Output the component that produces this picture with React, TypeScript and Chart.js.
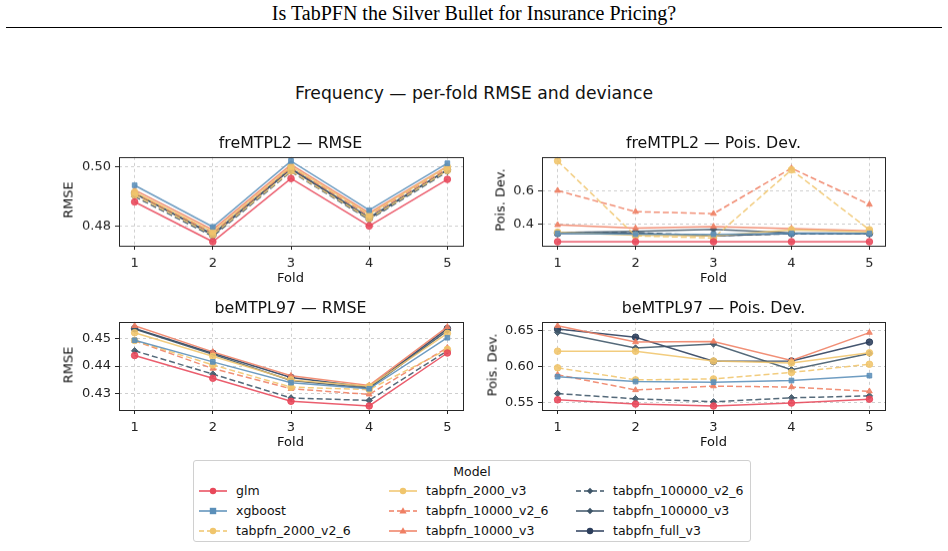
import React, { useEffect, useRef } from 'react';
import { Chart, registerables } from 'chart.js';
Chart.register(...registerables);

// ---------- data ----------
const folds = [1, 2, 3, 4, 5];
const models = [
  'glm', 'xgboost', 'tabpfn_2000_v2_6', 'tabpfn_2000_v3', 'tabpfn_10000_v2_6',
  'tabpfn_10000_v3', 'tabpfn_100000_v2_6', 'tabpfn_100000_v3', 'tabpfn_full_v3',
];
const colors = ['#e8485a', '#5b8fb9', '#f0c56c', '#f0c56c', '#ef7f63', '#ef7f63', '#3e5568', '#3e5568', '#2b3d5b'];
const dashed = [false, false, true, false, true, false, true, false, false];
const markers = ['circle', 'rect', 'circle', 'circle', 'triangle', 'triangle', 'rectRot', 'rectRot', 'circle'];

// freMTPL2 — RMSE (rows follow `models`)
const freRmse = [
  [0.4882, 0.4748, 0.4961, 0.4801, 0.4958],
  [0.4938, 0.4798, 0.5020, 0.4854, 0.5012],
  [0.4905, 0.4771, 0.4986, 0.4826, 0.4988],
  [0.4915, 0.4782, 0.5002, 0.4840, 0.5000],
  [0.4912, 0.4778, 0.4998, 0.4836, 0.4995],
  [0.4922, 0.4788, 0.5008, 0.4845, 0.5002],
  [0.4900, 0.4766, 0.4984, 0.4822, 0.4984],
  [0.4910, 0.4774, 0.4995, 0.4830, 0.4990],
  [0.4912, 0.4770, 0.4993, 0.4826, 0.4990],
];
// freMTPL2 — Pois. Dev.
const freDev = [
  [0.296, 0.296, 0.296, 0.296, 0.296],
  [0.345, 0.341, 0.340, 0.345, 0.345],
  [0.7765, 0.331, 0.318, 0.7235, 0.367],
  [0.352, 0.335, 0.330, 0.367, 0.355],
  [0.600, 0.4745, 0.4627, 0.733, 0.5176],
  [0.396, 0.3765, 0.386, 0.3745, 0.361],
  [0.348, 0.350, 0.332, 0.343, 0.343],
  [0.350, 0.357, 0.369, 0.348, 0.345],
  [0.345, 0.345, 0.331, 0.345, 0.345],
];
// beMTPL97 — RMSE
const beRmse = [
  [0.4438, 0.4356, 0.4273, 0.4256, 0.4447],
  [0.4493, 0.4415, 0.4340, 0.4318, 0.4502],
  [0.4492, 0.4404, 0.4324, 0.4315, 0.4460],
  [0.4520, 0.4435, 0.4350, 0.4327, 0.4518],
  [0.4491, 0.4391, 0.4318, 0.4298, 0.4466],
  [0.4545, 0.4451, 0.4365, 0.4330, 0.4541],
  [0.4455, 0.4371, 0.4285, 0.4276, 0.4455],
  [0.4533, 0.4442, 0.4348, 0.4320, 0.4528],
  [0.4535, 0.4446, 0.4359, 0.4324, 0.4535],
];
// beMTPL97 — Pois. Dev.
const beDev = [
  [0.5536, 0.5477, 0.5450, 0.5491, 0.5545],
  [0.5859, 0.5791, 0.5782, 0.5805, 0.5873],
  [0.5982, 0.5814, 0.5827, 0.5918, 0.6032],
  [0.6214, 0.6214, 0.6077, 0.6050, 0.6191],
  [0.5886, 0.5673, 0.5727, 0.5714, 0.5655],
  [0.6568, 0.6341, 0.6350, 0.6086, 0.6473],
  [0.5623, 0.5550, 0.5509, 0.5564, 0.5591],
  [0.6477, 0.6259, 0.6314, 0.5955, 0.6182],
  [0.6523, 0.6409, 0.6073, 0.6077, 0.6341],
];

const freRmseTicks = [0.48, 0.50];
const freDevTicks = [0.4, 0.6];
const beRmseTicks = [0.43, 0.44, 0.45];
const beDevTicks = [0.55, 0.60, 0.65];

// ---------- layout ----------
const FONT = '"DejaVu Sans", sans-serif';
const Y_W = 60;
const PAD_T = 10;
const PAD_R = 15;
const X_H = 40;

type PanelCfg = {
  title: string; ylabel: string; data: number[][]; ticks: number[]; dec: number;
  left: number; top: number; w: number; h: number; ylx: number;
};

const panels: PanelCfg[] = [
  { title: 'freMTPL2 — RMSE', ylabel: 'RMSE', data: freRmse, ticks: freRmseTicks, dec: 2, left: 118.5, top: 155, w: 344, h: 90.5, ylx: 68 },
  { title: 'freMTPL2 — Pois. Dev.', ylabel: 'Pois. Dev.', data: freDev, ticks: freDevTicks, dec: 1, left: 542, top: 155, w: 343, h: 90.5, ylx: 500 },
  { title: 'beMTPL97 — RMSE', ylabel: 'RMSE', data: beRmse, ticks: beRmseTicks, dec: 2, left: 118.5, top: 320, w: 344, h: 90, ylx: 68 },
  { title: 'beMTPL97 — Pois. Dev.', ylabel: 'Pois. Dev.', data: beDev, ticks: beDevTicks, dec: 2, left: 542, top: 320, w: 343, h: 90, ylx: 492 },
];

const framePlugin = {
  id: 'frame',
  afterDraw(chart: any) {
    const { ctx, chartArea } = chart;
    const { left, top, right, bottom } = chartArea;
    ctx.save();
    ctx.strokeStyle = '#262626';
    ctx.lineWidth = 1;
    ctx.strokeRect(Math.round(left) + 0.5, Math.round(top) + 0.5, Math.round(right - left), Math.round(bottom - top));
    ctx.restore();
  },
};

function Panel({ cfg }: { cfg: PanelCfg }) {
  const ref = useRef<HTMLCanvasElement | null>(null);
  const cw = cfg.w + Y_W + PAD_R;
  const ch = cfg.h + PAD_T + X_H;
  useEffect(() => {
    if (!ref.current) return;
    const all = cfg.data.flat();
    const mn = Math.min(...all);
    const mx = Math.max(...all);
    const m = (mx - mn) * 0.05;
    const chart = new Chart(ref.current, {
      type: 'line',
      data: {
        datasets: cfg.data.map((row, i) => ({
          label: models[i],
          data: row.map((v, j) => ({ x: folds[j], y: v })),
          borderColor: colors[i] + 'e0',
          backgroundColor: colors[i] + 'e0',
          pointBackgroundColor: colors[i] + 'e0',
          pointBorderColor: colors[i] + 'e0',
          borderWidth: 1.5,
          borderDash: dashed[i] ? [6, 3] : [],
          pointStyle: markers[i],
          pointRadius: markers[i] === 'rectRot' ? 3.2 : 3.3,
          pointBorderWidth: 1,
          tension: 0,
          fill: false,
        })),
      },
      plugins: [framePlugin],
      options: {
        animation: false,
        responsive: false,
        devicePixelRatio: 1,
        layout: { padding: { left: 0, top: PAD_T, right: PAD_R, bottom: 0 } },
        plugins: { legend: { display: false }, title: { display: false }, tooltip: { enabled: false } },
        scales: {
          x: {
            type: 'linear',
            min: 0.8,
            max: 5.2,
            afterBuildTicks: (s: any) => { s.ticks = folds.map((v) => ({ value: v })); },
            afterFit: (s: any) => { s.height = X_H; },
            ticks: { autoSkip: false, maxRotation: 0, color: '#222', font: { family: FONT, size: 13 }, padding: 6, callback: (v: any) => String(v) },
            grid: { color: 'rgba(170,170,170,0.7)', lineWidth: 0.8, tickLength: 4, tickColor: '#262626', tickWidth: 1, tickBorderDash: [] },
            border: { display: false, dash: [3, 3] },
          },
          y: {
            type: 'linear',
            min: mn - m,
            max: mx + m,
            afterBuildTicks: (s: any) => { s.ticks = cfg.ticks.map((v) => ({ value: v })); },
            afterFit: (s: any) => { s.width = Y_W; },
            ticks: { autoSkip: false, color: '#222', font: { family: FONT, size: 13 }, padding: 4, callback: (v: any) => Number(v).toFixed(cfg.dec) },
            grid: { color: 'rgba(170,170,170,0.7)', lineWidth: 0.8, tickLength: 4, tickColor: '#262626', tickWidth: 1, tickBorderDash: [] },
            border: { display: false, dash: [3, 3] },
          },
        },
      } as any,
    });
    return () => chart.destroy();
  }, []);
  const textBase: React.CSSProperties = { position: 'absolute', fontFamily: FONT, color: '#111', whiteSpace: 'nowrap' };
  return (
    <>
      <canvas
        ref={ref}
        width={cw}
        height={ch}
        style={{ position: 'absolute', left: cfg.left - Y_W, top: cfg.top - PAD_T, width: cw, height: ch }}
      />
      <div style={{ ...textBase, left: cfg.left, width: cfg.w, top: cfg.top - 21, textAlign: 'center', fontSize: 15.8, lineHeight: '18px' }}>{cfg.title}</div>
      <div style={{ ...textBase, left: cfg.left, width: cfg.w, top: cfg.top + cfg.h + 24, textAlign: 'center', fontSize: 13, lineHeight: '15px' }}>Fold</div>
      <div style={{ ...textBase, left: cfg.ylx, top: cfg.top + cfg.h / 2, fontSize: 13, lineHeight: '15px', transform: 'translate(-50%, -50%) rotate(-90deg)' }}>{cfg.ylabel}</div>
    </>
  );
}

function Handle({ i }: { i: number }) {
  const c = colors[i];
  const mk = markers[i];
  let marker: React.ReactNode;
  if (mk === 'circle') marker = <circle cx={14} cy={6} r={3.2} fill={c} />;
  else if (mk === 'rect') marker = <rect x={10.8} y={2.8} width={6.4} height={6.4} fill={c} />;
  else if (mk === 'triangle') marker = <polygon points="14,2.3 17.6,8.5 10.4,8.5" fill={c} />;
  else marker = <polygon points="14,2.8 17.2,6 14,9.2 10.8,6" fill={c} />;
  return (
    <svg width={28} height={12} style={{ position: 'absolute', left: 0, top: 0 }}>
      <line x1={0} y1={6} x2={28} y2={6} stroke={c} strokeWidth={1.5} strokeDasharray={dashed[i] ? '5,3' : undefined} />
      {marker}
    </svg>
  );
}

const legendCols = [199, 389, 576];
const legendRows = [491, 511, 531];

export default function App() {
  return (
    <div style={{ position: 'absolute', left: 0, top: 0, width: 948, height: 551, background: '#fff', overflow: 'hidden' }}>
      <div style={{ position: 'absolute', left: 0, width: 948, top: 2, textAlign: 'center', fontFamily: '"Liberation Serif", serif', fontSize: 20, lineHeight: '23px', color: '#000' }}>
        Is TabPFN the Silver Bullet for Insurance Pricing?
      </div>
      <div style={{ position: 'absolute', left: 6, width: 936, top: 27, height: 1, background: '#000' }} />
      <div style={{ position: 'absolute', left: 0, width: 948, top: 83, textAlign: 'center', fontFamily: FONT, fontSize: 17.2, lineHeight: '20px', color: '#111' }}>
        Frequency — per-fold RMSE and deviance
      </div>
      {panels.map((p, i) => <Panel key={i} cfg={p} />)}
      <div style={{ position: 'absolute', left: 193, top: 460, width: 558, height: 82, border: '1px solid #d0d0d0', borderRadius: 3, boxSizing: 'border-box' }} />
      <div style={{ position: 'absolute', left: 193, width: 558, top: 464, textAlign: 'center', fontFamily: FONT, fontSize: 12.5, lineHeight: '16px', color: '#111' }}>Model</div>
      {models.map((name, i) => {
        const col = Math.floor(i / 3);
        const row = i % 3;
        return (
          <div key={name} style={{ position: 'absolute', left: legendCols[col], top: legendRows[row] - 6, height: 12 }}>
            <Handle i={i} />
            <div style={{ position: 'absolute', left: 37, top: -2, fontFamily: FONT, fontSize: 12.5, lineHeight: '16px', color: '#111', whiteSpace: 'nowrap' }}>{name}</div>
          </div>
        );
      })}
    </div>
  );
}
